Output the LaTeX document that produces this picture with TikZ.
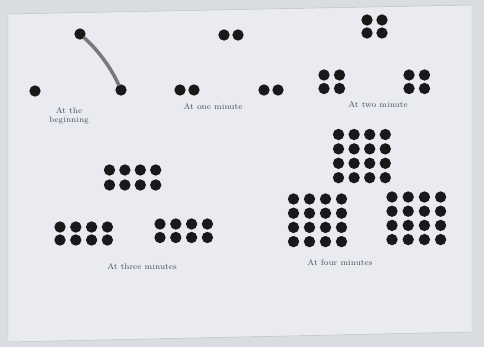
\documentclass[tikz,border=0pt]{standalone}
\usepackage{tikz}
\usetikzlibrary{positioning}
\definecolor{deskgray}{HTML}{D9DCE1}
\definecolor{papergray}{HTML}{E9EBF0}
\definecolor{inkgray}{HTML}{4A4E58}
\begin{document}
\begin{tikzpicture}[x=0.03cm,y=-0.03cm,
  dot/.style={circle,fill=black!90,inner sep=0pt,minimum size=0.34cm},
  stage/.style={font=\scriptsize,text=inkgray,align=center,inner sep=1pt},
  pencil/.style={line width=3pt,draw=black!60,opacity=0.85,line cap=round}]
\useasboundingbox (0,0) rectangle (484,347);
\fill[deskgray] (0,0) rectangle (484,347);
\fill[papergray,draw=black!25] (8,14) -- (472,5) -- (472,332) -- (8,342) -- cycle;
% at the beginning
\node[dot] (b1) at (35,91) {};
\node[dot] (b2) at (80,34) {};
\node[dot] (b3) at (121,90) {};
\draw[pencil] (b2) .. controls (100,52) and (112,70) .. (b3);
\node[stage] (lb) at (69,116) {At the\\beginning};
% at one minute
\foreach \c in {0,1} {
  \node[dot] (oA-\c) at ({224+14*\c},35) {};
  \node[dot] (oB-\c) at ({180+14*\c},90) {};
  \node[dot] (oC-\c) at ({264+14*\c},90) {};
}
\node[stage] (lo) at (213,107) {At one minute};
% at two minute
\foreach \r in {0,1} \foreach \c in {0,1} {
  \node[dot] (tA-\r-\c) at ({367+15*\c},{20+13*\r}) {};
  \node[dot] (tB-\r-\c) at ({324+15.5*\c},{75+13.5*\r}) {};
  \node[dot] (tC-\r-\c) at ({409+15.5*\c},{75+13.5*\r}) {};
}
\node[stage] (lt) at (378,105) {At two minute};
% at three minutes
\foreach \r in {0,1} \foreach \c in {0,...,3} {
  \node[dot] (hA-\r-\c) at ({109.5+15.4*\c},{170+15*\r}) {};
  \node[dot] (hB-\r-\c) at ({60+15.8*\c},{227+13*\r}) {};
  \node[dot] (hC-\r-\c) at ({160+15.8*\c},{224+13.5*\r}) {};
}
\node[stage] (lh) at (142,267) {At three minutes};
% at four minutes
\foreach \r in {0,...,3} \foreach \c in {0,...,3} {
  \node[dot] (fA-\r-\c) at ({338.5+15.6*\c},{134.5+14.4*\r}) {};
  \node[dot] (fB-\r-\c) at ({293.5+16*\c},{199+14.2*\r}) {};
  \node[dot] (fC-\r-\c) at ({392+16.2*\c},{197+14.2*\r}) {};
}
\node[stage] (lf) at (340,263) {At four minutes};
\end{tikzpicture}
\end{document}
